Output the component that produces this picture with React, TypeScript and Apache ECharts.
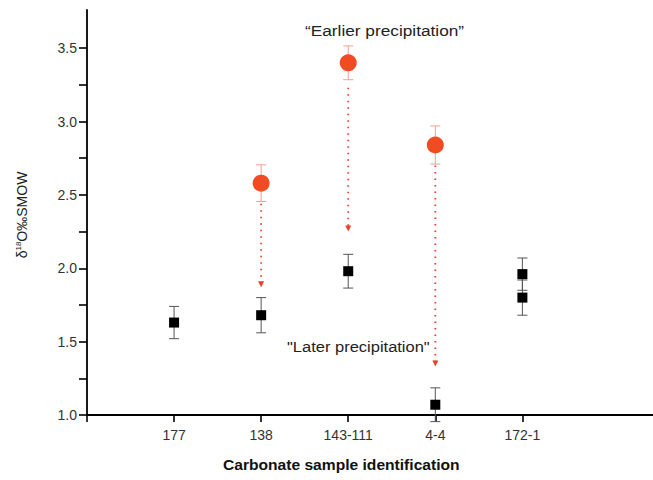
import React, { useEffect, useRef } from "react";
import * as echarts from "echarts";

const categories = ["177", "138", "143-111", "4-4", "172-1"];
const categoryPos = [1, 2, 3, 4, 5];

// later precipitation (black squares): [x, value, error]
const laterData = [
  [1, 1.63, 0.11],
  [2, 1.68, 0.12],
  [3, 1.98, 0.115],
  [4, 1.07, 0.115],
  [5, 1.96, 0.11],
  [5, 1.8, 0.12],
];

// earlier precipitation (red circles): [x, value, error]
const earlierData = [
  [2, 2.58, 0.125],
  [3, 3.4, 0.115],
  [4, 2.84, 0.13],
];

// arrows: [x, from, to]
const arrows = [
  [2, 2.44, 1.87],
  [3, 3.23, 2.25],
  [4, 2.7, 1.33],
];

const majorTicks = [1.0, 1.5, 2.0, 2.5, 3.0, 3.5];
const allTicks = [1.0, 1.25, 1.5, 1.75, 2.0, 2.25, 2.5, 2.75, 3.0, 3.25, 3.5];

const FONT = "Liberation Sans, Arial, sans-serif";

function errorSeries(data: number[][], color: string) {
  return {
    type: "custom",
    data,
    z: 1,
    silent: true,
    renderItem: (params: any, api: any) => {
      const x = api.value(0);
      const y = api.value(1);
      const e = api.value(2);
      const top = api.coord([x, y + e]);
      const bot = api.coord([x, y - e]);
      const w = 5;
      const style = { stroke: color, lineWidth: 1 };
      return {
        type: "group",
        children: [
          { type: "line", shape: { x1: top[0], y1: top[1], x2: bot[0], y2: bot[1] }, style },
          { type: "line", shape: { x1: top[0] - w, y1: top[1], x2: top[0] + w, y2: top[1] }, style },
          { type: "line", shape: { x1: bot[0] - w, y1: bot[1], x2: bot[0] + w, y2: bot[1] }, style },
        ],
      };
    },
  };
}

export default function App() {
  const ref = useRef<HTMLDivElement>(null);
  useEffect(() => {
    if (!ref.current) return;
    const chart = echarts.init(ref.current, null, { renderer: "svg" });
    chart.setOption({
      animation: false,
      backgroundColor: "#ffffff",
      grid: { left: 87, right: 0, top: 10, bottom: 65 },
      xAxis: {
        type: "value",
        min: 0,
        max: 6.5,
        interval: 1,
        splitLine: { show: false },
        axisLine: { show: true, lineStyle: { color: "#000", width: 1.8 } },
        axisTick: {
          show: true,
          length: 7,
          customValues: [0, ...categoryPos],
          lineStyle: { color: "#000", width: 1.6 },
        },
        axisLabel: {
          customValues: categoryPos,
          formatter: (v: number) => categories[Math.round(v) - 1] ?? "",
          color: "#333",
          fontSize: 14,
          fontFamily: FONT,
          margin: 13,
        },
      },
      yAxis: {
        type: "value",
        min: 1.0,
        max: 3.76,
        interval: 0.5,
        splitLine: { show: false },
        axisLine: { show: true, onZero: false, lineStyle: { color: "#000", width: 1.8 } },
        axisTick: {
          show: true,
          length: 8,
          customValues: allTicks,
          lineStyle: { color: "#000", width: 1.6 },
        },
        axisLabel: {
          customValues: majorTicks,
          formatter: (v: number) => v.toFixed(1),
          color: "#333",
          fontSize: 14,
          fontFamily: FONT,
          margin: 10,
        },
      },
      series: [
        errorSeries(laterData, "#555"),
        errorSeries(earlierData, "#f0a090"),
        {
          type: "custom",
          data: arrows,
          z: 1,
          silent: true,
          renderItem: (params: any, api: any) => {
            const x = api.value(0);
            const a = api.coord([x, api.value(1)]);
            const b = api.coord([x, api.value(2)]);
            return {
              type: "group",
              children: [
                {
                  type: "line",
                  shape: { x1: a[0], y1: a[1], x2: b[0], y2: b[1] - 5 },
                  style: { stroke: "#e8402a", lineWidth: 1.8, lineDash: [1.5, 5] },
                },
                {
                  type: "polygon",
                  shape: { points: [[b[0] - 3, b[1] - 6], [b[0] + 3, b[1] - 6], [b[0], b[1]]] },
                  style: { fill: "#e8402a" },
                },
              ],
            };
          },
        },
        {
          type: "scatter",
          data: laterData.map((d) => [d[0], d[1]]),
          symbol: "rect",
          symbolSize: 10,
          itemStyle: { color: "#000", opacity: 1 },
          z: 3,
        },
        {
          type: "scatter",
          data: earlierData.map((d) => [d[0], d[1]]),
          symbol: "circle",
          symbolSize: 17,
          itemStyle: { color: "#f04b22", opacity: 1 },
          z: 3,
        },
      ],
      graphic: [
        {
          type: "text",
          x: 305,
          y: 23,
          scaleX: 1.15,
          style: { text: "\u201CEarlier precipitation\u201D", fontSize: 15, fontFamily: FONT, fill: "#222" },
        },
        {
          type: "text",
          x: 287,
          y: 339,
          scaleX: 1.1,
          style: { text: "\"Later precipitation\"", fontSize: 15, fontFamily: FONT, fill: "#222" },
        },
        {
          type: "text",
          x: 223,
          y: 457,
          scaleX: 1.04,
          style: {
            text: "Carbonate sample identification",
            fontSize: 15,
            fontWeight: "bold",
            fontFamily: FONT,
            fill: "#111",
          },
        },
        {
          type: "text",
          x: 22,
          y: 215,
          rotation: Math.PI / 2,
          style: {
            text: "{a|\u03B4}{s|18}{a|O\u2030SMOW}",
            align: "center",
            verticalAlign: "middle",
            rich: {
              a: { fontSize: 14, fontFamily: FONT, fill: "#222" } as any,
              s: { fontSize: 8, fontFamily: FONT, fill: "#222", verticalAlign: "top", padding: [0, 0, 7, 0] } as any,
            },
          },
        },
      ],
    });
    return () => chart.dispose();
  }, []);
  return <div ref={ref} style={{ width: 653, height: 480, position: "absolute", left: 0, top: 0 }} />;
}
